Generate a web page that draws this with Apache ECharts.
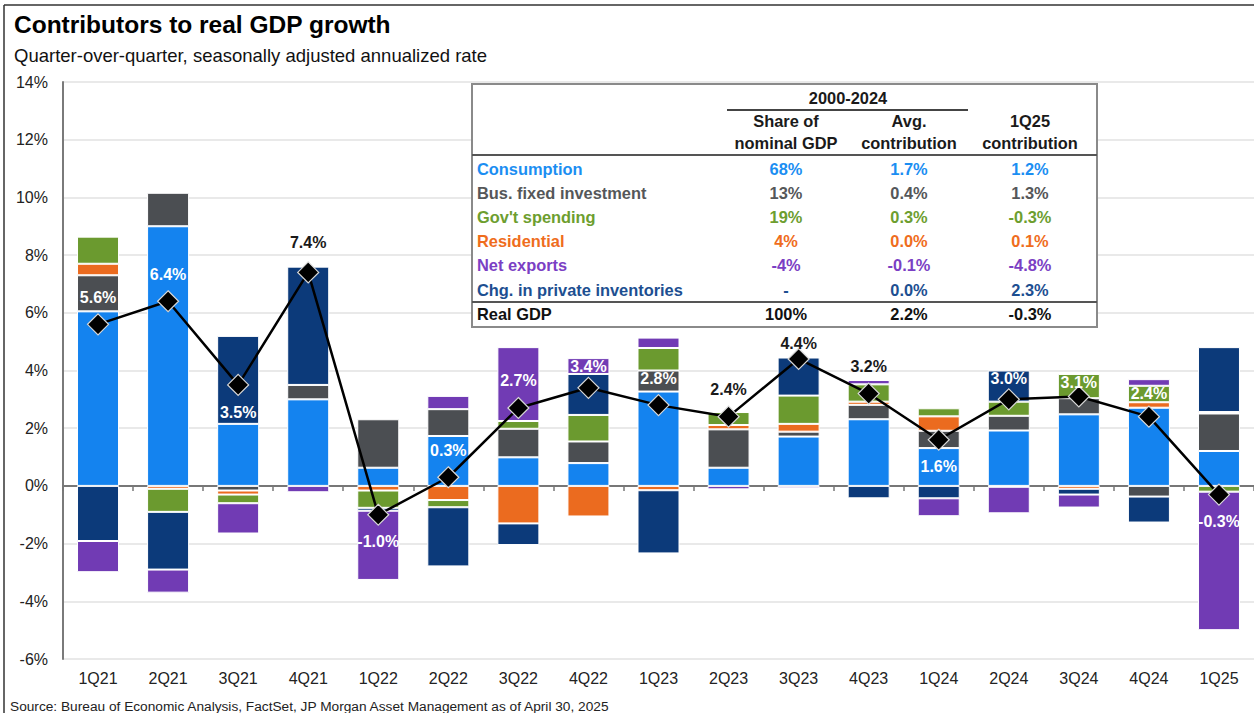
<!DOCTYPE html>
<html><head><meta charset="utf-8">
<script src="https://cdn.jsdelivr.net/npm/echarts@6/dist/echarts.min.js"></script>
<style>html,body{margin:0;padding:0;background:#fff}#c{width:1254px;height:713px}</style>
</head><body><div id="c"></div>
<script>
// ---------- data ----------
const categories = ['1Q21','2Q21','3Q21','4Q21','1Q22','2Q22','3Q22','4Q22','1Q23','2Q23','3Q23','4Q23','1Q24','2Q24','3Q24','4Q24','1Q25'];
const consumption = [6.05, 9.0, 2.15, 3.0, 0.63, 1.73, 0.99, 0.79, 3.27, 0.63, 1.71, 2.31, 1.31, 1.92, 2.48, 2.71, 1.21];
const busFixed    = [1.25, 1.16, -0.16, 0.5, 1.68, 0.93, 0.99, 0.75, 0.73, 1.33, 0.17, 0.5, 0.6, 0.51, 0.56, -0.37, 1.3];
const residential = [0.4, -0.1, -0.14, null, -0.16, -0.49, -1.3, -1.06, -0.15, 0.15, 0.27, 0.11, 0.5, -0.03, -0.1, 0.19, 0.05];
const govt        = [0.94, -0.8, -0.3, null, -0.6, -0.25, 0.27, 0.92, 0.78, 0.45, 0.98, 0.6, 0.28, 0.49, 0.84, 0.57, -0.2];
const inventories = [-1.91, -2.0, 3.05, 4.1, -0.1, -2.05, -0.75, 1.42, -2.19, null, 1.32, -0.43, -0.43, 1.08, -0.2, -0.9, 2.25];
const netExports  = [-1.08, -0.8, -1.05, -0.22, -2.4, 0.46, 2.56, 0.55, 0.36, -0.12, -0.08, 0.15, -0.62, -0.92, -0.45, 0.23, -4.8];
const realGDP     = [5.6, 6.4, 3.5, 7.4, -1.0, 0.3, 2.7, 3.4, 2.8, 2.4, 4.4, 3.2, 1.6, 3.0, 3.1, 2.4, -0.3];

const tableRows   = ['Consumption', 'Bus. fixed investment', "Gov't spending", 'Residential', 'Net exports', 'Chg. in private inventories', 'Real GDP'];
const shareNominal = ['68%', '13%', '19%', '4%', '-4%', '-', '100%'];
const avgContrib   = ['1.7%', '0.4%', '0.3%', '0.0%', '-0.1%', '0.0%', '2.2%'];
const q125Contrib  = ['1.2%', '1.3%', '-0.3%', '0.1%', '-4.8%', '2.3%', '-0.3%'];

// ---------- styling ----------
const FONT = '"Liberation Sans", Arial, sans-serif';
const barColors = ['#1483ef', '#4b4e52', '#eb6b1f', '#6b9a2f', '#0c3a7a', '#713bb4'];
const rowColors = ['#1b8ef2', '#555759', '#6d9e2f', '#ef6d1d', '#7b3fc4', '#1d4f91', '#111'];
const seriesDefs = [
  ['Consumption', consumption], ['Bus. fixed investment', busFixed], ['Residential', residential],
  ["Gov't spending", govt], ['Chg. in private inventories', inventories], ['Net exports', netExports]
];
const labelsBelow = new Set(['3Q21', '1Q22', '1Q24', '1Q25']);
const labelsDark = new Set(['4Q21', '2Q23', '3Q23', '4Q23']);
const labelDistance = { '3Q23': -4, '3Q24': -5, '2Q24': 2, '4Q22': 2, '4Q21': 11, '4Q24': 4 };

const barSeries = seriesDefs.map((d, i) => ({
  name: d[0], type: 'bar', stack: 'gdp', data: d[1], barWidth: 42,
  xAxisIndex: 0, yAxisIndex: 0,
  itemStyle: { color: barColors[i], borderColor: '#fff', borderWidth: 1 },
  emphasis: { disabled: true }
}));

const lineSeries = {
  name: 'Real GDP', type: 'line', z: 10, xAxisIndex: 0, yAxisIndex: 0,
  data: realGDP.map((v, i) => {
    const c = categories[i];
    return {
      value: v,
      label: {
        position: labelsBelow.has(c) ? 'bottom' : 'top',
        color: labelsDark.has(c) ? '#1a1a1a' : '#ffffff',
        distance: (c in labelDistance) ? labelDistance[c] : 8
      }
    };
  }),
  symbol: 'diamond', symbolSize: 21,
  lineStyle: { color: '#000', width: 2.5 },
  itemStyle: { color: '#000', borderColor: '#d8d8d8', borderWidth: 1.2 },
  label: { show: true, fontFamily: FONT, fontWeight: 'bold', fontSize: 16,
    formatter: p => p.value.toFixed(1) + '%' },
  emphasis: { disabled: true }
};

// table graphic
const TX = 472, TY = 84, TW = 625, TH = 243;
const colX = [314, 437, 558];
const rowY = [85, 109, 133, 157, 181, 206, 230];
const tfont = 'bold 16.4px ' + FONT;
function txt(text, x, y, fill, align) {
  return { type: 'text', z: 102, x: x, y: y, style: { text: text, font: tfont, fill: fill,
    textAlign: align || 'center', textVerticalAlign: 'middle' } };
}
const tableChildren = [
  { type: 'rect', z: 100, shape: { x: 0, y: 0, width: TW, height: TH }, style: { fill: '#fff', stroke: '#8a8a8a', lineWidth: 2 } },
  txt('2000-2024', 376, 14, '#1a1a1a'),
  { type: 'line', z: 101, shape: { x1: 255, y1: 26, x2: 496, y2: 26 }, style: { stroke: '#444', lineWidth: 2 } },
  txt('Share of', colX[0], 37, '#1a1a1a'), txt('nominal GDP', colX[0], 59, '#1a1a1a'),
  txt('Avg.', colX[1], 37, '#1a1a1a'), txt('contribution', colX[1], 59, '#1a1a1a'),
  txt('1Q25', colX[2], 37, '#1a1a1a'), txt('contribution', colX[2], 59, '#1a1a1a'),
  { type: 'line', z: 101, shape: { x1: 0, y1: 71, x2: TW, y2: 71 }, style: { stroke: '#555', lineWidth: 2 } },
  { type: 'line', z: 101, shape: { x1: 0, y1: 218, x2: TW, y2: 218 }, style: { stroke: '#555', lineWidth: 2 } }
];
tableRows.forEach((r, i) => {
  tableChildren.push(txt(r, 5, rowY[i], rowColors[i], 'left'));
  tableChildren.push(txt(shareNominal[i], colX[0], rowY[i], rowColors[i]));
  tableChildren.push(txt(avgContrib[i], colX[1], rowY[i], rowColors[i]));
  tableChildren.push(txt(q125Contrib[i], colX[2], rowY[i], rowColors[i]));
});

const chart = echarts.init(document.getElementById('c'), null, { renderer: 'svg' });
chart.setOption({
  animation: false,
  backgroundColor: '#fff',
  title: [
    { text: 'Contributors to real GDP growth', left: 9, top: 7,
      textStyle: { fontFamily: FONT, fontWeight: 'bold', fontSize: 24.5, color: '#000' } },
    { text: 'Quarter-over-quarter, seasonally adjusted annualized rate', left: 9, top: 41,
      textStyle: { fontFamily: FONT, fontWeight: 'normal', fontSize: 18.5, color: '#111' } }
  ],
  grid: { left: 63, right: 0, top: 82, bottom: 54, containLabel: false, outerBoundsMode: 'none' },
  xAxis: [
    { type: 'category', data: categories, position: 'bottom',
      axisLine: { show: true, onZero: true, lineStyle: { color: '#777', width: 2 } },
      axisTick: { show: true, length: 5, lineStyle: { color: '#777', width: 1.5 } },
      axisLabel: { show: false }, splitLine: { show: false } },
    { type: 'category', data: categories, position: 'bottom',
      axisLine: { show: false, onZero: false }, axisTick: { show: false },
      axisLabel: { show: true, margin: 11, fontFamily: FONT, fontSize: 16, color: '#222' },
      splitLine: { show: false } }
  ],
  yAxis: [{
    type: 'value', min: -6, max: 14, interval: 2,
    axisLine: { show: true, lineStyle: { color: '#7a7a7a', width: 2 } },
    axisTick: { show: false },
    axisLabel: { formatter: '{value}%', margin: 15, fontFamily: FONT, fontSize: 16, color: '#222' },
    splitLine: { show: true, lineStyle: { color: '#e2e2e2', width: 1.5 } }
  }],
  series: barSeries.concat([lineSeries]),
  graphic: [
    { type: 'line', z: 100, shape: { x1: 4, y1: 5, x2: 1254, y2: 5 }, style: { stroke: '#333', lineWidth: 1.5 } },
    { type: 'line', z: 100, shape: { x1: 4, y1: 5, x2: 4, y2: 713 }, style: { stroke: '#333', lineWidth: 1.5 } },
    { type: 'group', x: TX, y: TY, children: tableChildren, z: 100 },
    { type: 'text', z: 100, x: 10, y: 706, style: { text: 'Source: Bureau of Economic Analysis, FactSet, JP Morgan Asset Management as of April 30, 2025',
      font: '13.7px "Liberation Sans Narrow", "Arial Narrow", ' + FONT, fill: '#222', textAlign: 'left', textVerticalAlign: 'middle' } }
  ]
});
</script>
</body></html>
